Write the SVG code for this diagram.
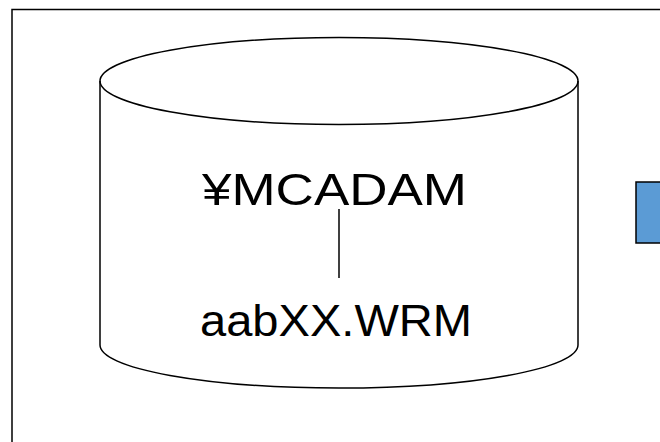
<svg xmlns="http://www.w3.org/2000/svg" width="660" height="442" viewBox="0 0 660 442">
<style>
.ln{fill:none;stroke:#000;stroke-width:1.5}
.t{font-family:"Liberation Sans",Arial,sans-serif;font-size:45px;fill:#000}
</style>
<rect x="0" y="0" width="660" height="442" fill="#fff"/>
<g id="frame"><rect class="ln" x="12" y="9.5" width="700" height="500"/></g>
<g id="cylinder">
<path d="M100,81 V345 A239,43 0 0 0 578,345 V81" fill="#fff" stroke="#000" stroke-width="1.5"/>
<ellipse class="ln" cx="339" cy="81" rx="239" ry="43.5" fill="#fff"/>
<text class="t" x="202" y="205" textLength="265" lengthAdjust="spacingAndGlyphs">¥MCADAM</text>
<text class="t" x="200" y="336" textLength="272" lengthAdjust="spacingAndGlyphs">aabXX.WRM</text>
</g>
<g id="blue"><rect x="636" y="182" width="40" height="61" fill="#5B9BD5" stroke="#000" stroke-width="1.5"/></g>
<g id="connectors"><line x1="339" y1="209" x2="339" y2="278" stroke="#000" stroke-width="1.5"/></g>
</svg>
